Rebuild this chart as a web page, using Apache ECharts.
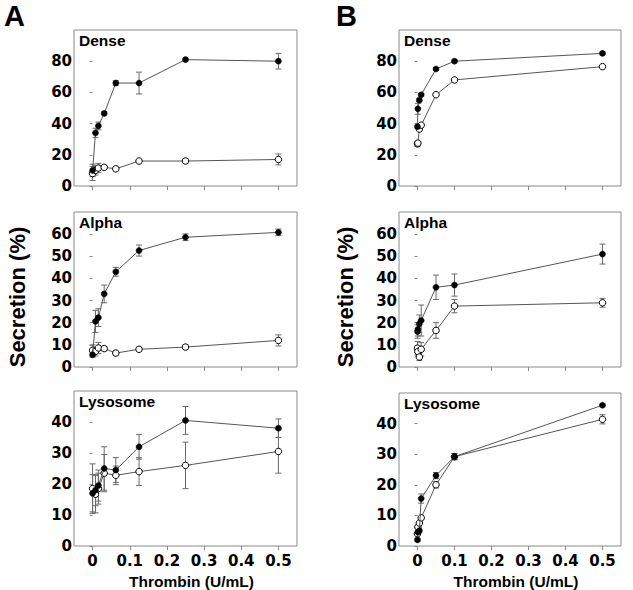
<!DOCTYPE html>
<html><head><meta charset="utf-8">
<script src="https://cdn.jsdelivr.net/npm/echarts@6/dist/echarts.min.js"></script>
<style>html,body{margin:0;padding:0;background:#fff}#c{width:633px;height:590px}</style>
</head><body><div id="c"></div>
<script>
// X values (thrombin, U/mL)
const xA = [0, 0.0078125, 0.015625, 0.03125, 0.0625, 0.125, 0.25, 0.5];
const xB = [0, 0.001, 0.005, 0.01, 0.05, 0.1, 0.5];
const xTicks = [0, 0.1, 0.2, 0.3, 0.4, 0.5];

// Panel A
const denseA_filled = [10, 34, 38.5, 46.5, 66, 66, 81, 80];
const denseA_filledErr = [4, 3, 2.5, 1, 1.5, 7, 1, 5];
const denseA_open = [8, 10, 11.5, 12, 11, 16, 16, 17];
const denseA_openErr = [4.5, 3, 3, 1, 1.5, 1, 1.5, 3.5];

const alphaA_filled = [5.5, 20.6, 22.3, 33, 43, 52.6, 58.6, 60.8];
const alphaA_filledErr = [1, 5, 4, 4, 2, 2.5, 1.5, 1.5];
const alphaA_open = [7.5, 7, 8.6, 8.3, 6.3, 8, 9, 12];
const alphaA_openErr = [2.5, 2, 2.5, 1, 1, 1, 1, 2.5];

const lysoA_filled = [17, 18, 19.5, 25, 24.5, 32, 40.5, 38];
const lysoA_filledErr = [6, 5, 5, 7, 4, 4, 4.5, 3];
const lysoA_open = [18.5, 16.7, 18.5, 23.5, 22.8, 24, 26, 30.5];
const lysoA_openErr = [8, 6, 5, 6, 3, 4.5, 7.5, 7];

// Panel B
const denseB_filled = [38, 49.5, 55, 58.5, 75, 80, 85];
const denseB_filledErr = [1, 3.5, 1, 1, 1, 1, 1];
const denseB_open = [27, 27.5, 36.5, 39, 58.5, 68, 76.5];
const denseB_openErr = [1.5, 1, 1, 1, 1, 1, 1];

const alphaB_filled = [16, 17, 19.5, 21, 36, 37, 51];
const alphaB_filledErr = [3, 3, 4, 7, 5.5, 5, 4.5];
const alphaB_open = [8.5, 7, 4.5, 8, 16.5, 27.5, 29];
const alphaB_openErr = [3, 2, 1.5, 3, 3.5, 3, 2];

const lysoB_filled = [2, 4.5, 5, 15.5, 23, 29.2, 46];
const lysoB_filledErr = [0.5, 0.5, 0.5, 1.5, 1, 1, 0.5];
const lysoB_open = [4, 6.2, 7.5, 9.2, 20, 29.2, 41.4];
const lysoB_openErr = [0.5, 0.5, 0.5, 0.5, 1, 1, 1.5];

const yTicksDense = [0, 20, 40, 60, 80];
const yTicksAlpha = [0, 10, 20, 30, 40, 50, 60];
const yTicksLyso = [0, 10, 20, 30, 40];

const FONT = "'Liberation Sans', Arial, sans-serif";
const TICKFONT = "'DejaVu Sans', sans-serif";
const frame = '#8a8a8a';

const panels = [
  {left: 74, width: 223, top: 30, height: 156, ymax: 100, yt: yTicksDense, xs: xA, f: denseA_filled, fe: denseA_filledErr, o: denseA_open, oe: denseA_openErr, title: 'Dense', xl: false},
  {left: 74, width: 223, top: 212, height: 155, ymax: 70, yt: yTicksAlpha, xs: xA, f: alphaA_filled, fe: alphaA_filledErr, o: alphaA_open, oe: alphaA_openErr, title: 'Alpha', xl: false},
  {left: 74, width: 223, top: 391, height: 155, ymax: 50, yt: yTicksLyso, xs: xA, f: lysoA_filled, fe: lysoA_filledErr, o: lysoA_open, oe: lysoA_openErr, title: 'Lysosome', xl: true},
  {left: 399, width: 222, top: 30, height: 156, ymax: 100, yt: yTicksDense, xs: xB, f: denseB_filled, fe: denseB_filledErr, o: denseB_open, oe: denseB_openErr, title: 'Dense', xl: false},
  {left: 399, width: 222, top: 212, height: 155, ymax: 70, yt: yTicksAlpha, xs: xB, f: alphaB_filled, fe: alphaB_filledErr, o: alphaB_open, oe: alphaB_openErr, title: 'Alpha', xl: false},
  {left: 399, width: 222, top: 393, height: 153, ymax: 50, yt: yTicksLyso, xs: xB, f: lysoB_filled, fe: lysoB_filledErr, o: lysoB_open, oe: lysoB_openErr, title: 'Lysosome', xl: true}
];

const grid = [], xAxis = [], yAxis = [], series = [], graphic = [];

function errRender(params, api) {
  const x = api.value(0), y = api.value(1), e = api.value(2);
  const t = api.coord([x, y + e]);
  const b = api.coord([x, y - e]);
  const w = 3;
  const st = {stroke: '#6a6a6a', lineWidth: 1};
  return {type: 'group', children: [
    {type: 'line', shape: {x1: t[0], y1: t[1], x2: b[0], y2: b[1]}, style: st},
    {type: 'line', shape: {x1: t[0] - w, y1: t[1], x2: t[0] + w, y2: t[1]}, style: st},
    {type: 'line', shape: {x1: b[0] - w, y1: b[1], x2: b[0] + w, y2: b[1]}, style: st}
  ]};
}

panels.forEach((p, i) => {
  grid.push({left: p.left, top: p.top, width: p.width, height: p.height, show: true, borderColor: frame, borderWidth: 1, backgroundColor: 'transparent'});
  xAxis.push({
    type: 'value', gridIndex: i, min: -0.05, max: 0.55,
    axisLine: {show: false},
    splitLine: {show: false},
    axisTick: {show: true, inside: false, length: 4, lineStyle: {color: frame}, customValues: xTicks},
    axisLabel: {show: p.xl, customValues: xTicks, margin: 7, color: '#000', fontFamily: TICKFONT, fontWeight: 'bold', fontSize: 15},
    name: p.xl ? 'Thrombin (U/mL)' : '', nameLocation: 'middle', nameGap: 27,
    nameTextStyle: {color: '#000', fontFamily: FONT, fontWeight: 'bold', fontSize: 15.5, padding: [0, 0, 0, 12]}
  });
  yAxis.push({
    type: 'value', gridIndex: i, min: 0, max: p.ymax,
    axisLine: {show: false},
    splitLine: {show: false},
    axisTick: {show: true, inside: false, length: 3, lineStyle: {color: frame}, customValues: p.yt},
    axisLabel: {customValues: p.yt, margin: 2, color: '#000', fontFamily: TICKFONT, fontWeight: 'bold', fontSize: 15}
  });
  const fd = p.xs.map((x, k) => [x, p.f[k], p.fe[k]]);
  const od = p.xs.map((x, k) => [x, p.o[k], p.oe[k]]);
  series.push({type: 'custom', xAxisIndex: i, yAxisIndex: i, renderItem: errRender, data: fd, encode: {x: 0, y: 1}, z: 1, silent: true});
  series.push({type: 'custom', xAxisIndex: i, yAxisIndex: i, renderItem: errRender, data: od, encode: {x: 0, y: 1}, z: 1, silent: true});
  series.push({type: 'line', xAxisIndex: i, yAxisIndex: i, data: p.xs.map((x, k) => [x, p.f[k]]),
    symbol: 'circle', symbolSize: 6, lineStyle: {color: '#555', width: 1},
    itemStyle: {color: '#000', borderColor: '#000', borderWidth: 0.5}, z: 3, animation: false});
  series.push({type: 'line', xAxisIndex: i, yAxisIndex: i, data: p.xs.map((x, k) => [x, p.o[k]]),
    symbol: 'circle', symbolSize: 6.5, lineStyle: {color: '#555', width: 1},
    itemStyle: {color: '#fff', borderColor: '#000', borderWidth: 1}, z: 2, animation: false});
  graphic.push({type: 'text', left: p.left + 5, top: p.top + 2,
    style: {text: p.title, fill: '#000', font: 'bold 15.5px ' + FONT}});
});

graphic.push({type: 'text', left: 4, top: 1, style: {text: 'A', fill: '#000', font: 'bold 29px ' + FONT}});
graphic.push({type: 'text', left: 336, top: 1, style: {text: 'B', fill: '#000', font: 'bold 29px ' + FONT}});
graphic.push({type: 'text', x: 17, y: 297, rotation: Math.PI / 2,
  style: {text: 'Secretion (%)', fill: '#000', font: 'bold 22px ' + FONT, align: 'center', verticalAlign: 'middle'}});
graphic.push({type: 'text', x: 345, y: 297, rotation: Math.PI / 2,
  style: {text: 'Secretion (%)', fill: '#000', font: 'bold 22px ' + FONT, align: 'center', verticalAlign: 'middle'}});

const chart = echarts.init(document.getElementById('c'), null, {renderer: 'svg'});
chart.setOption({animation: false, backgroundColor: '#fff', grid, xAxis, yAxis, series, graphic});
</script>
</body></html>
